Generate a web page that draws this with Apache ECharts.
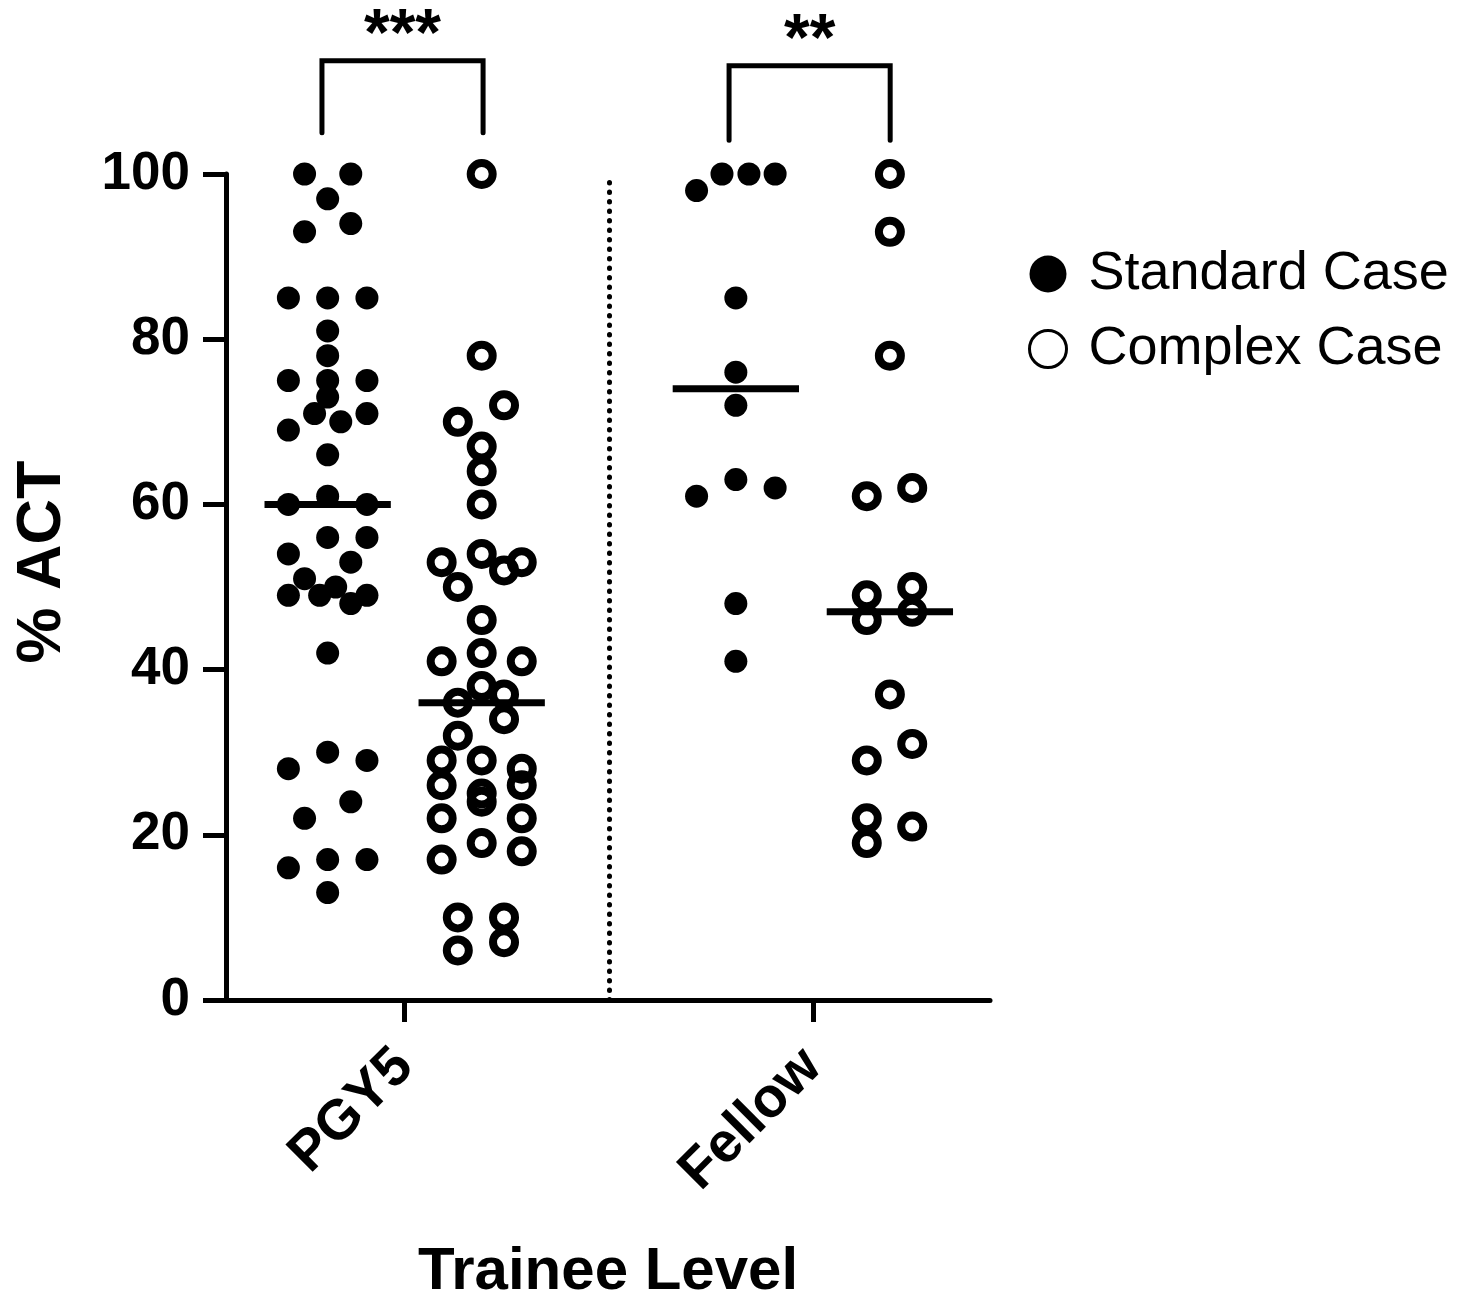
<!DOCTYPE html>
<html>
<head>
<meta charset="utf-8">
<script src="https://cdn.jsdelivr.net/npm/echarts@6/dist/echarts.min.js"></script>
<style>
  html, body { margin: 0; padding: 0; background: #fff; }
  #chart { width: 1458px; height: 1299px; }
</style>
</head>
<body>
<div id="chart"></div>
<script>
// Trainee levels and the x centre of each case group on the value axis
const levels = ["PGY5", "Fellow"];
const groupX = [1, 2, 3.65, 4.65]; // PGY5 std, PGY5 complex, Fellow std, Fellow complex

// % ACT per case
const pgy5Standard = [100, 100, 97, 93, 94, 85, 85, 85, 81, 78, 75, 75, 75, 73, 71, 70, 71, 69, 66, 60, 61, 60,
  56, 56, 54, 53, 51, 49, 49, 50, 49, 48, 42, 30, 28, 29, 24, 22, 16, 17, 17, 13];
const pgy5Complex = [100, 78, 72, 70, 67, 64, 60, 54, 53, 52, 53, 50, 46, 41, 42, 41, 38, 37, 36, 34, 32,
  29, 29, 28, 26, 26, 25, 24, 22, 22, 19, 17, 18, 10, 10, 6, 7];
const fellowStandard = [98, 100, 100, 100, 85, 76, 72, 61, 63, 62, 48, 41];
const fellowComplex = [100, 93, 78, 61, 62, 49, 46, 50, 47, 37, 31, 29, 22, 19, 21];

// horizontal scatter of each point around its group centre (x-axis units)
const pgy5StandardSpread = [-0.15, 0.15, 0, -0.15, 0.15, -0.255, 0, 0.255, 0, 0, -0.255, 0, 0.255, 0, -0.085, 0.085,
  0.255, -0.255, 0, -0.255, 0, 0.255, 0, 0.255, -0.255, 0.15, -0.15, -0.255, -0.052, 0.052, 0.255, 0.15, 0, 0,
  -0.255, 0.255, 0.15, -0.15, -0.255, 0, 0.255, 0];
const pgy5ComplexSpread = [0, 0, 0.145, -0.155, 0, 0, 0, 0, -0.26, 0.145, 0.26, -0.155, 0, -0.26, 0, 0.26, 0,
  0.145, -0.155, 0.145, -0.155, -0.26, 0, 0.26, -0.26, 0.26, 0, 0, -0.26, 0.26, 0, -0.26, 0.26, -0.155, 0.145,
  -0.155, 0.145];
const fellowStandardSpread = [-0.255, -0.09, 0.085, 0.255, 0, 0, 0, -0.255, 0, 0.255, 0, 0];
const fellowComplexSpread = [0, 0, 0, -0.15, 0.145, -0.15, -0.15, 0.145, 0.145, 0, 0.145, -0.15, -0.15, -0.15, 0.145];

// significance brackets
const sigLabels = ["***", "**"];
const bracketLeft = [0.963, 3.606];
const bracketRight = [2.009, 4.652];
const bracketLeg = [105, 104.1];
const bracketTop = [113.7, 113.1];

const median = (arr) => {
  const s = [...arr].sort((a, b) => a - b);
  const m = Math.floor(s.length / 2);
  return s.length % 2 ? s[m] : (s[m - 1] + s[m]) / 2;
};

const toPoints = (vals, spread, cx) => vals.map((v, i) => [cx + spread[i], v]);

const standardData = toPoints(pgy5Standard, pgy5StandardSpread, groupX[0])
  .concat(toPoints(fellowStandard, fellowStandardSpread, groupX[2]));
const complexData = toPoints(pgy5Complex, pgy5ComplexSpread, groupX[1])
  .concat(toPoints(fellowComplex, fellowComplexSpread, groupX[3]));

const medianData = [pgy5Standard, pgy5Complex, fellowStandard, fellowComplex].map((g, i) => [groupX[i], median(g)]);
const levelTicks = [(groupX[0] + groupX[1]) / 2, (groupX[2] + groupX[3]) / 2];
const dividerX = (groupX[1] + groupX[2]) / 2;

const FONT = "Liberation Sans, Arial, Helvetica, sans-serif";

const chart = echarts.init(document.getElementById("chart"));

chart.setOption({
  animation: false,
  backgroundColor: "#fff",
  grid: { left: 226, right: 468, top: 174, bottom: 299, outerBoundsMode: "none" },
  legend: {
    orient: "vertical",
    left: 1023,
    top: 242,
    itemWidth: 37,
    itemHeight: 37,
    itemGap: 21,
    selectedMode: false,
    textStyle: { fontFamily: FONT, fontSize: 54, color: "#000", padding: [0, 0, 0, 17] },
    data: [
      { name: "Standard Case", icon: "circle", itemStyle: { color: "#000", borderWidth: 0 } },
      { name: "Complex Case", icon: "circle", itemStyle: { color: "#fff", borderColor: "#000", borderWidth: 3 } },
    ],
  },
  xAxis: {
    type: "value",
    min: 0.34,
    max: 5.3,
    name: "Trainee Level",
    nameLocation: "middle",
    nameGap: 242,
    nameTextStyle: { fontFamily: FONT, fontSize: 60, fontWeight: "bold", color: "#000" },
    splitLine: { show: false },
    axisLine: { show: true, lineStyle: { color: "#000", width: 5 } },
    axisTick: { show: true, length: 22, lineStyle: { color: "#000", width: 5 }, customValues: levelTicks },
    axisLabel: {
      customValues: levelTicks,
      rotate: 45,
      margin: 58,
      fontFamily: FONT,
      fontSize: 56,
      fontWeight: "bold",
      color: "#000",
      formatter: (v) => levels[levelTicks.findIndex((t) => Math.abs(t - v) < 1e-6)] || "",
    },
  },
  yAxis: {
    type: "value",
    min: 0,
    max: 100,
    interval: 20,
    name: "% ACT",
    nameLocation: "middle",
    nameGap: 152,
    nameTextStyle: {
      fontFamily: FONT, fontSize: 63, fontWeight: "bold", color: "#000",
      padding: [0, 0, 0, 50],
    },
    splitLine: { show: false },
    axisLine: { show: true, lineStyle: { color: "#000", width: 5 } },
    axisTick: { show: true, length: 23, lineStyle: { color: "#000", width: 5 } },
    axisLabel: { margin: 36, fontFamily: FONT, fontSize: 53, fontWeight: "bold", color: "#000" },
  },
  series: [
    {
      name: "Standard Case",
      type: "scatter",
      symbol: "circle",
      symbolSize: 23,
      itemStyle: { color: "#000", opacity: 1 },
      data: standardData,
      z: 3,
      markLine: {
        silent: true,
        symbol: "none",
        label: { show: false },
        lineStyle: { color: "#000", width: 5, type: [0.5, 9], cap: "round" },
        data: [{ xAxis: dividerX }],
      },
    },
    {
      name: "Complex Case",
      type: "scatter",
      symbol: "circle",
      symbolSize: 22,
      itemStyle: { color: "rgba(0,0,0,0)", borderColor: "#000", borderWidth: 8, opacity: 1 },
      data: complexData,
      z: 3,
    },
    {
      name: "median",
      type: "custom",
      z: 4,
      clip: false,
      data: medianData,
      renderItem: (params, api) => {
        const p1 = api.coord([api.value(0) - 0.41, api.value(1)]);
        const p2 = api.coord([api.value(0) + 0.41, api.value(1)]);
        return {
          type: "line",
          shape: { x1: p1[0], y1: p1[1], x2: p2[0], y2: p2[1] },
          style: { stroke: "#000", lineWidth: 7 },
        };
      },
    },
    {
      name: "significance",
      type: "custom",
      z: 4,
      clip: false,
      data: sigLabels.map((s, i) => [bracketLeft[i], bracketRight[i], bracketLeg[i], bracketTop[i]]),
      renderItem: (params, api) => {
        const i = params.dataIndex;
        const a = api.coord([api.value(0), api.value(2)]);
        const b = api.coord([api.value(0), api.value(3)]);
        const c = api.coord([api.value(1), api.value(3)]);
        const d = api.coord([api.value(1), api.value(2)]);
        return {
          type: "group",
          children: [
            {
              type: "polyline",
              shape: { points: [a, b, c, d] },
              style: { stroke: "#000", lineWidth: 5, fill: null, lineCap: "round", lineJoin: "miter" },
            },
            {
              type: "text",
              style: {
                text: sigLabels[i],
                x: (b[0] + c[0]) / 2,
                y: b[1] - 24,
                align: "center",
                verticalAlign: "middle",
                font: "bold 66px " + FONT,
                fill: "#000",
              },
            },
          ],
        };
      },
    },
  ],
});
</script>
</body>
</html>
